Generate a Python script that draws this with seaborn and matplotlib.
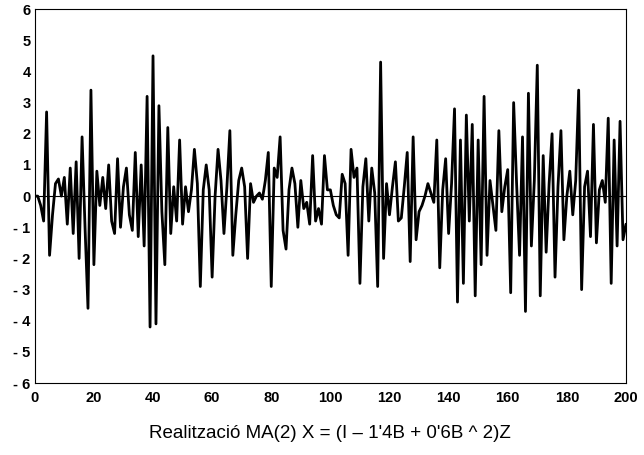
import numpy as np
import pandas as pd
import matplotlib
matplotlib.use("Agg")
import matplotlib.pyplot as plt
import seaborn as sns

# Simulated MA(2) realisation, t = 0..200
t = list(range(201))
x_vals = [
    0.0, 0.0, -0.3, -0.8, 2.7, -1.9, -0.6, 0.4, 0.55, 0.0,
    0.6, -0.9, 0.9, -1.2, 1.1, -2.0, 1.9, -1.0, -3.6, 3.4,
    -2.2, 0.8, -0.3, 0.6, -0.4, 1.0, -0.8, -1.2, 1.2, -1.0,
    0.3, 0.9, -0.6, -1.1, 1.4, -1.3, 1.0, -1.6, 3.2, -4.2,
    4.5, -4.1, 2.9, -0.5, -2.2, 2.2, -1.2, 0.3, -0.8, 1.8,
    -0.9, 0.3, -0.5, 0.2, 1.5, 0.4, -2.9, 0.2, 1.0, 0.2,
    -2.6, 0.0, 1.5, 0.5, -1.2, 0.3, 2.1, -1.9, -0.6, 0.5,
    0.9, 0.3, -2.0, 0.4, -0.2, 0.0, 0.1, -0.1, 0.5, 1.4,
    -2.9, 0.9, 0.6, 1.9, -1.1, -1.7, 0.2, 0.9, 0.4, -1.0,
    0.5, -0.4, -0.2, -0.9, 1.3, -0.8, -0.4, -0.9, 1.3, 0.2,
    0.2, -0.3, -0.6, -0.7, 0.7, 0.4, -1.9, 1.5, 0.6, 0.9,
    -2.8, 0.3, 1.2, -0.8, 0.9, 0.1, -2.9, 4.3, -2.0, 0.4,
    -0.6, 0.3, 1.1, -0.8, -0.7, 0.3, 1.4, -2.1, 1.9, -1.4,
    -0.5, -0.3, 0.0, 0.4, 0.1, -0.2, 1.8, -2.3, 0.2, 1.2,
    -1.2, 0.4, 2.8, -3.4, 1.8, -2.8, 2.6, -0.8, 2.3, -3.2,
    1.8, -2.2, 3.2, -1.9, 0.5, -0.3, -1.1, 2.1, -0.5, 0.3,
    0.85, -3.1, 3.0, 0.4, -1.9, 1.9, -3.7, 3.3, -1.6, 0.5,
    4.2, -3.2, 1.3, -1.8, 0.4, 2.0, -2.6, 0.3, 2.1, -1.4,
    0.0, 0.8, -0.6, 0.5, 3.4, -3.0, 0.3, 0.8, -1.3, 2.3,
    -1.5, 0.2, 0.5, -0.2, 2.5, -2.8, 1.8, -1.6, 2.4, -1.4,
    -0.9,
]
x_ticks = list(range(0, 201, 20))
y_ticks = list(range(-6, 7))
title = "Realització MA(2) X = (I \u2013 1'4B + 0'6B ^ 2)Z"

sns.set_style("white")
plt.rcParams["font.family"] = ["Liberation Sans", "DejaVu Sans"]
plt.rcParams["text.color"] = "black"
plt.rcParams["axes.labelcolor"] = "black"
plt.rcParams["xtick.color"] = "black"
plt.rcParams["ytick.color"] = "black"

df = pd.DataFrame({"t": t, "x": x_vals})

fig = plt.figure(figsize=(6.44, 4.55), dpi=100)
ax = fig.add_axes([0.054, 0.158, 0.918, 0.822])

ax.axhline(0, color="black", linewidth=0.8, zorder=1)
sns.lineplot(data=df, x="t", y="x", ax=ax, color="black", linewidth=2.0,
             solid_joinstyle="round", zorder=2)

ax.set_xlim(0, 200)
ax.set_ylim(-6, 6)
ax.set_xticks(x_ticks)
ax.set_xticklabels([str(v) for v in x_ticks], fontweight="bold", fontsize=10.5)
ax.set_yticks(y_ticks)
ax.set_yticklabels([("- " + str(-v)) if v < 0 else str(v) for v in y_ticks],
                   fontweight="bold", fontsize=10.5)
ax.tick_params(direction="in", length=4, width=0.7, colors="black")
ax.tick_params(axis="y", pad=3)
ax.tick_params(axis="x", pad=6)
for s in ax.spines.values():
    s.set_color("black")
    s.set_linewidth(0.8)

ax.set_xlabel(title, fontsize=13.5, labelpad=14, color="black")
ax.set_ylabel("")

fig.savefig("out.png", dpi=100)
